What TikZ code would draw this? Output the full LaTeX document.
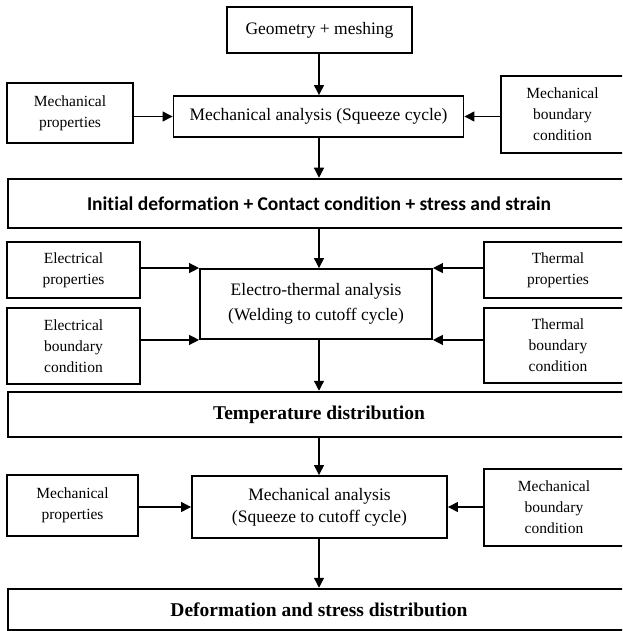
\documentclass[tikz,border=0pt]{standalone}
\usepackage{fontspec}
\setmainfont{Liberation Serif}
\newfontfamily\calib[Ligatures=NoCommon]{Carlito}
\usetikzlibrary{arrows.meta}
\begin{document}
\begin{tikzpicture}[x=1pt,y=-1pt,
  side/.style={draw, line width=1.2pt, align=center, inner sep=0pt,
    font=\fontsize{15.5}{21}\selectfont},
  main/.style={draw, line width=1.9pt, align=center, inner sep=0pt,
    font=\fontsize{17.5}{22}\selectfont},
  wide/.style={draw, line width=2.5pt, align=center, inner sep=0pt},
  arr/.style={line width=1.3pt, -{Triangle[length=10pt,width=10pt]}},
]
\useasboundingbox (0,0) rectangle (622,631);
\clip (0,0) rectangle (622,631);
\coordinate (cx) at (319,0);

% top
\node[draw, line width=1.2pt, inner sep=0pt, minimum width=185pt, minimum height=46pt,
  font=\fontsize{17.5}{22}\selectfont] (geo) at (319.5,30) {Geometry + meshing};
\node[side, minimum width=126pt, minimum height=60pt] (mp1) at (70,113) {Mechanical\\properties};
\node[main, minimum width=290pt, minimum height=41pt] (ma1) at (318.5,116.5) {Mechanical analysis (Squeeze cycle)};
\node[side, minimum width=123pt, minimum height=77pt] (mbc1) at (562.5,114.5) {Mechanical\\boundary\\condition};
\node[wide, minimum width=622pt, minimum height=49pt, font=\calib\bfseries\fontsize{19.5}{22}\selectfont]
  (init) at (319,203.5) {Initial deformation + Contact condition + stress and strain};

% electro-thermal
\node[side, minimum width=133pt, minimum height=56pt] (ep) at (73.5,270) {Electrical\\properties};
\node[side, minimum width=133pt, minimum height=76pt] (ebc) at (73.5,346) {Electrical\\boundary\\condition};
\node[main, minimum width=232pt, minimum height=70pt, font=\fontsize{17.5}{25.5}\selectfont]
  (et) at (316,304) {Electro-thermal analysis\\(Welding to cutoff cycle)};
\node[side, minimum width=148pt, minimum height=56pt] (tp) at (558,270) {Thermal\\properties};
\node[side, minimum width=148pt, minimum height=75pt] (tbc) at (558,345.5) {Thermal\\boundary\\condition};
\node[wide, minimum width=622pt, minimum height=45pt, font=\bfseries\fontsize{19.5}{22}\selectfont]
  (temp) at (319,414.5) {Temperature distribution};

% bottom
\node[side, minimum width=131pt, minimum height=61pt] (mp2) at (72.5,505.5) {Mechanical\\properties};
\node[main, minimum width=255pt, minimum height=62pt] (ma2) at (319.5,507) {Mechanical analysis\\(Squeeze to cutoff cycle)};
\node[side, minimum width=140pt, minimum height=77pt] (mbc2) at (554,507.5) {Mechanical\\boundary\\condition};
\node[wide, minimum width=622pt, minimum height=41pt, font=\bfseries\fontsize{19.5}{22}\selectfont]
  (def) at (319,609.5) {Deformation and stress distribution};

% vertical chain
\draw[arr] (geo.south -| cx) -- (ma1.north -| cx);
\draw[arr] (ma1.south -| cx) -- (init.north -| cx);
\draw[arr] (init.south -| cx) -- (et.north -| cx);
\draw[arr] (et.south -| cx) -- (temp.north -| cx);
\draw[arr] (temp.south -| cx) -- (ma2.north -| cx);
\draw[arr] (ma2.south -| cx) -- (def.north -| cx);

% side inputs
\draw[arr] (mp1.east |- ma1.west) -- (ma1.west);
\draw[arr] (mbc1.west |- ma1.east) -- (ma1.east);
\draw[arr] (ep.east |- et.north west) -- (et.north west);
\draw[arr] (ebc.east |- et.south west) -- (et.south west);
\draw[arr] (tp.west |- et.north east) -- (et.north east);
\draw[arr] (tbc.west |- et.south east) -- (et.south east);
\draw[arr] (mp2.east |- ma2.west) -- (ma2.west);
\draw[arr] (mbc2.west |- ma2.east) -- (ma2.east);
\end{tikzpicture}
\end{document}
